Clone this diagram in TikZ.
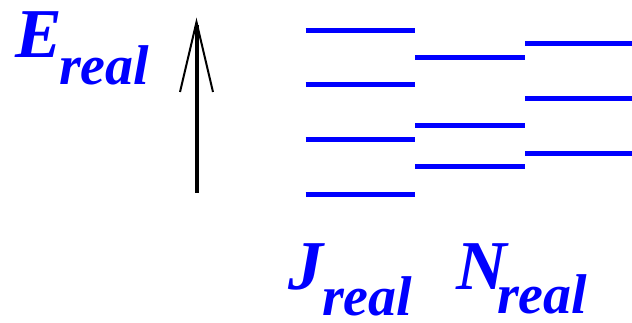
\documentclass[tikz,border=0pt]{standalone}
\usepackage{fontspec}
\setmainfont{Liberation Serif}
\definecolor{lvblue}{RGB}{0,0,255}
\tikzset{
  lvl/.style={draw=lvblue, line width=5pt},
  big/.style={text=lvblue, inner sep=0pt, anchor=base west, text depth=0pt, font=\fontsize{70}{70}\selectfont\bfseries\itshape},
  sub/.style={text=lvblue, inner sep=0pt, anchor=base west, text depth=0pt, font=\fontsize{56}{56}\selectfont\bfseries\itshape},
}
\begin{document}
\begin{tikzpicture}[x=1pt,y=-1pt]
\useasboundingbox (0,0) rectangle (632,323);
% labels
\node[big] (E) at (15,58) {E};
\node[sub] (Er) at (59,85) {real};
\node[big] (J) at (288,290) {J};
\node[sub] (Jr) at (322,315) {real};
\node[big] (N) at (456,290) {N};
\node[sub] (Nr) at (497,313) {real};
% arrow
\coordinate (abot) at (196.5,193);
\coordinate (atop) at (196.5,22);
\coordinate (bl) at (180,92);
\coordinate (br) at (213,92);
\draw[line width=4pt] (abot) -- ([yshift=-3pt]atop);
\draw[line width=2pt, line join=miter] (bl) -- (atop) -- (br);
% levels column 1
\draw[lvl] (305.5,30.3) -- (415.3,30.3);
\draw[lvl] (305.5,85) -- (415.3,85);
\draw[lvl] (305.5,139.7) -- (415.3,139.7);
\draw[lvl] (305.5,194.3) -- (415.3,194.3);
% column 2
\draw[lvl] (415.3,57.7) -- (525,57.7);
\draw[lvl] (415.3,126) -- (525,126);
\draw[lvl] (415.3,167) -- (525,167);
% column 3
\draw[lvl] (525,44) -- (632,44);
\draw[lvl] (525,98.7) -- (632,98.7);
\draw[lvl] (525,153.3) -- (632,153.3);
\end{tikzpicture}
\end{document}
